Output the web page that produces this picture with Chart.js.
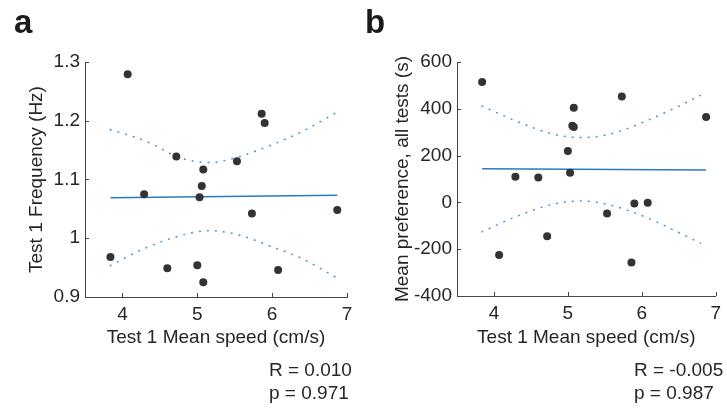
<!DOCTYPE html>
<html>
<head>
<meta charset="utf-8">
<script src="https://cdn.jsdelivr.net/npm/chart.js@4/dist/chart.umd.min.js"></script>
<style>
    body { margin: 0; background: #fff; }
    #wrap { position: relative; width: 727px; height: 409px; overflow: hidden; font-family: "Liberation Sans", Arial, sans-serif; color: #262626; }
    canvas { position: absolute; top: 0; }
    .lbl { position: absolute; font-weight: bold; font-size: 33px; line-height: 40px; color: #1a1a1a; }
    .stat { position: absolute; font-size: 19px; line-height: 22px; white-space: nowrap; }
</style>
</head>
<body>
<div id="wrap">
    <canvas id="chartA" width="363" height="409" style="left:0"></canvas>
    <canvas id="chartB" width="364" height="409" style="left:363px"></canvas>
    <div class="lbl" style="left:14px; top:2px">a</div>
    <div class="lbl" style="left:365px; top:2px">b</div>
    <div class="stat" style="left:269px; top:359px">R = 0.010</div>
    <div class="stat" style="left:269px; top:382px">p = 0.971</div>
    <div class="stat" style="left:634px; top:359px">R = -0.005</div>
    <div class="stat" style="left:634px; top:382px">p = 0.987</div>
</div>
<script>
// mean speed of each animal in test 1 (cm/s)
const speed = [4.07, 5.86, 5.90, 4.72, 5.53, 5.08, 5.06, 4.29, 5.03, 3.84, 4.60, 5.00, 5.08, 6.08, 5.73, 6.87];
// panel a: test 1 frequency (Hz), same order as speed
const freq = [1.279, 1.212, 1.196, 1.139, 1.131, 1.117, 1.089, 1.075, 1.070, 0.968, 0.949, 0.954, 0.925, 0.946, 1.042, 1.048];
// panel b: mean preference over all tests (s), same order as speed
const pref = [-225, -257, -5, -145, -47, 405, 328, 110, 127, 515, 106, 220, 322, -1, 453, 365];

// linear fits
const fitX = [3.84, 6.87];
const fitA = [1.069, 1.073];
const fitB = [144, 138];

// confidence bands
const bandXA = [3.83, 4.30, 4.79, 5.17, 5.54, 6.03, 6.39, 6.86];
const upperA = [1.185, 1.166, 1.136, 1.129, 1.138, 1.161, 1.181, 1.214];
const lowerA = [0.953, 0.983, 1.005, 1.013, 1.006, 0.984, 0.966, 0.933];
const bandXB = [3.83, 4.32, 4.81, 5.19, 5.57, 6.06, 6.41, 6.80];
const upperB = [413, 345, 291, 277, 292, 348, 398, 458];
const lowerB = [-127, -58, -7, 6, -11, -64, -115, -175];

const xTicks = [4, 5, 6, 7];
const yTicksA = [0.9, 1, 1.1, 1.2, 1.3];
const yTicksB = [-400, -200, 0, 200, 400, 600];

const FONT = { family: '"Liberation Sans", Arial, sans-serif', size: 19 };
const TEXT = '#262626';
const AXIS = '#444444';
const DOT = '#333333';
const FIT = '#2b7bba';
const BAND = '#4f93cf';

const pairs = (xs, ys) => xs.map((x, i) => ({ x: x, y: ys[i] }));

// MATLAB-style ticks pointing into the plot
const innerTicks = {
    id: 'innerTicks',
    afterDraw(chart) {
        const { ctx, chartArea, scales } = chart;
        ctx.save();
        ctx.strokeStyle = AXIS;
        ctx.lineWidth = 1;
        ctx.beginPath();
        scales.x.ticks.forEach(t => {
            const px = Math.round(scales.x.getPixelForValue(t.value)) + 0.5;
            ctx.moveTo(px, chartArea.bottom);
            ctx.lineTo(px, chartArea.bottom - 4);
        });
        scales.y.ticks.forEach(t => {
            const py = Math.round(scales.y.getPixelForValue(t.value)) + 0.5;
            ctx.moveTo(chartArea.left, py);
            ctx.lineTo(chartArea.left + 4, py);
        });
        ctx.stroke();
        ctx.restore();
    }
};

function makePanel(id, cfg) {
    return new Chart(document.getElementById(id), {
        type: 'scatter',
        data: {
            datasets: [
                {
                    data: pairs(speed, cfg.values),
                    pointRadius: 4,
                    pointBackgroundColor: DOT,
                    pointBorderWidth: 0,
                    order: 0
                },
                {
                    data: pairs(fitX, cfg.fit),
                    showLine: true,
                    borderColor: FIT,
                    borderWidth: 1.5,
                    pointRadius: 0,
                    order: 1
                },
                {
                    data: pairs(cfg.bandX, cfg.upper),
                    showLine: true,
                    borderColor: BAND,
                    borderWidth: 1.5,
                    borderDash: [2, 6],
                    cubicInterpolationMode: 'monotone',
                    pointRadius: 0,
                    order: 2
                },
                {
                    data: pairs(cfg.bandX, cfg.lower),
                    showLine: true,
                    borderColor: BAND,
                    borderWidth: 1.5,
                    borderDash: [2, 6],
                    cubicInterpolationMode: 'monotone',
                    pointRadius: 0,
                    order: 2
                }
            ]
        },
        options: {
            responsive: false,
            animation: false,
            devicePixelRatio: 1,
            layout: { padding: { top: 62, right: cfg.padRight, bottom: 54, left: 0 } },
            plugins: { legend: { display: false }, tooltip: { enabled: false } },
            scales: {
                x: {
                    type: 'linear',
                    min: 3.5,
                    max: 7,
                    afterBuildTicks: s => { s.ticks = xTicks.map(v => ({ value: v })); },
                    afterFit: s => { s.height = cfg.xHeight; },
                    grid: { display: false, drawTicks: false },
                    border: { color: AXIS, width: 1 },
                    ticks: { font: FONT, color: TEXT, padding: 6, maxRotation: 0, callback: v => String(v) },
                    title: { display: true, text: 'Test 1 Mean speed (cm/s)', font: FONT, color: TEXT, padding: { top: 0, bottom: 6 } }
                },
                y: {
                    type: 'linear',
                    min: cfg.yTicks[0],
                    max: cfg.yTicks[cfg.yTicks.length - 1],
                    afterBuildTicks: s => { s.ticks = cfg.yTicks.map(v => ({ value: v })); },
                    afterFit: s => { s.width = cfg.yWidth; },
                    grid: { display: false, drawTicks: false },
                    border: { color: AXIS, width: 1 },
                    ticks: { font: FONT, color: TEXT, padding: 5, callback: v => String(v) },
                    title: { display: true, text: cfg.yTitle, font: FONT, color: TEXT, padding: { top: cfg.yTitlePad, bottom: 0 } }
                }
            }
        },
        plugins: [innerTicks]
    });
}

makePanel('chartA', {
    values: freq, fit: fitA, bandX: bandXA, upper: upperA, lower: lowerA,
    yTicks: yTicksA, yTitle: 'Test 1 Frequency (Hz)',
    yWidth: 85, xHeight: 58, padRight: 16, yTitlePad: 25
});
makePanel('chartB', {
    values: pref, fit: fitB, bandX: bandXB, upper: upperB, lower: lowerB,
    yTicks: yTicksB, yTitle: 'Mean preference, all tests (s)',
    yWidth: 94, xHeight: 59, padRight: 9, yTitlePad: 28
});
</script>
</body>
</html>
